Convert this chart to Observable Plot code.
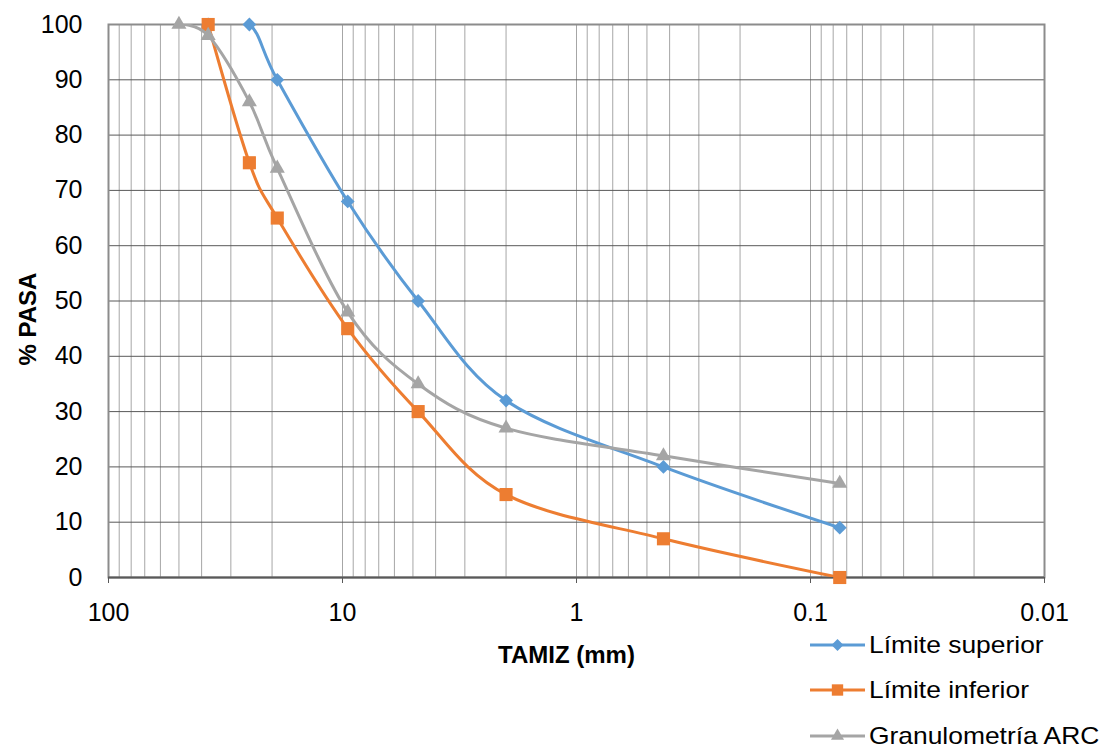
<!DOCTYPE html>
<html><head><meta charset="utf-8">
<script src="https://cdn.jsdelivr.net/npm/d3@7"></script>
<script src="https://cdn.jsdelivr.net/npm/@observablehq/plot@0.6"></script>
<style>
body{margin:0;background:#fff;font-family:"Liberation Sans",Arial,sans-serif;}
#wrap{position:relative;width:1105px;height:748px;overflow:hidden;}
#legend{position:absolute;left:810px;top:622px;font-size:24px;color:#000;font-family:"Liberation Sans",Arial,sans-serif;}
.row{display:flex;align-items:center;height:45.5px;white-space:nowrap;}
.row svg{margin-right:4px;flex:none;}
.row span{display:inline-block;line-height:20px;transform:scaleX(1.1);transform-origin:left center;}
</style></head><body><div id="wrap"></div>
<script>
// Sieve sizes (mm)
const sizes = [50, 37.5, 25, 19, 9.5, 4.75, 2, 0.425, 0.075];
// % passing
const superior = [null, 100, 100, 90, 68, 50, 32, 20, 9];
const inferior = [null, 100, 75, 65, 45, 30, 15, 7, 0];
const arc = [100, 98, 86, 74, 48, 35, 27, 22, 17];
const seriesNames = ["Límite superior", "Límite inferior", "Granulometría ARC"];
const seriesColors = ["#5B9BD5", "#ED7D31", "#A5A5A5"];
const seriesSymbols = ["diamond2", "square", "triangle"];
const seriesR = [6.2, 7.4, 5.6];
const xTicks = [100, 10, 1, 0.1, 0.01];
const xTickLabels = ["100", "10", "1", "0.1", "0.01"];
const yTicks = [0, 10, 20, 30, 40, 50, 60, 70, 80, 90, 100];
const xTitle = "TAMIZ (mm)";
const yTitle = "% PASA";

const seriesValues = [superior, inferior, arc];
const tables = seriesValues.map((vals, s) =>
  sizes.map((x, i) => ({x, y: vals[i], s: seriesNames[s]})).filter(d => d.y != null)
);

// log minor grid positions
const minor = [];
for (let e = -2; e < 2; e++) for (let k = 1; k <= 9; k++) minor.push(k * Math.pow(10, e));
minor.push(100);

const marks = [
  Plot.ruleX(minor, {stroke: "#a6a6a6", strokeWidth: 1}),
  Plot.ruleY(yTicks.filter(d => d > 0), {stroke: "#595959", strokeWidth: 1}),
  Plot.frame({stroke: "#8c8c8c", strokeWidth: 2}),
  Plot.ruleY([0], {stroke: "#595959", strokeWidth: 2}),
  Plot.axisY(yTicks, {tickSize: 0, tickPadding: 26, fontSize: 25, label: null}),
  Plot.axisX(xTicks, {tickSize: 6, tickPadding: 20, fontSize: 25, tickFormat: d => xTickLabels[xTicks.indexOf(d)], label: null, stroke: "#595959"}),
  Plot.text([xTitle], {frameAnchor: "bottom", dy: 78, dx: -10, textAnchor: "middle", lineAnchor: "middle", fontWeight: "bold", fontSize: 24}),
  Plot.text([yTitle], {frameAnchor: "left", rotate: -90, dx: -80, dy: 18, textAnchor: "middle", lineAnchor: "middle", fontWeight: "bold", fontSize: 24})
];
tables.forEach((t, s) => {
  marks.push(Plot.line(t, {x: "x", y: "y", stroke: seriesColors[s], strokeWidth: 3, curve: "cardinal", tension: 0, clip: true}));
  marks.push(Plot.dot(t, {x: "x", y: "y", fill: seriesColors[s], symbol: seriesSymbols[s], r: seriesR[s], stroke: "none"}));
});

const chart = Plot.plot({
  width: 1105,
  height: 748,
  marginLeft: 108,
  marginRight: 61,
  marginTop: 24,
  marginBottom: 171,
  style: {fontFamily: "Liberation Sans, Arial, sans-serif", fontSize: "24px", color: "#000", background: "#fff"},
  x: {type: "log", domain: [100, 0.01]},
  y: {domain: [0, 100]},
  marks
});
const wrap = document.getElementById("wrap");
wrap.appendChild(chart);

// legend
const legend = document.createElement("div");
legend.id = "legend";
seriesNames.forEach((name, s) => {
  const row = document.createElement("div");
  row.className = "row";
  const sym = {diamond2: d3.symbolDiamond2, square: d3.symbolSquare, triangle: d3.symbolTriangle}[seriesSymbols[s]];
  const path = d3.symbol(sym, Math.PI * seriesR[s] * seriesR[s] * 0.75)();
  row.innerHTML = `<svg width="55" height="20"><line x1="0" x2="55" y1="10" y2="10" stroke="${seriesColors[s]}" stroke-width="3"/><path transform="translate(27.5,10)" d="${path}" fill="${seriesColors[s]}"/></svg><span>${name}</span>`;
  legend.appendChild(row);
});
wrap.appendChild(legend);
</script></body></html>
